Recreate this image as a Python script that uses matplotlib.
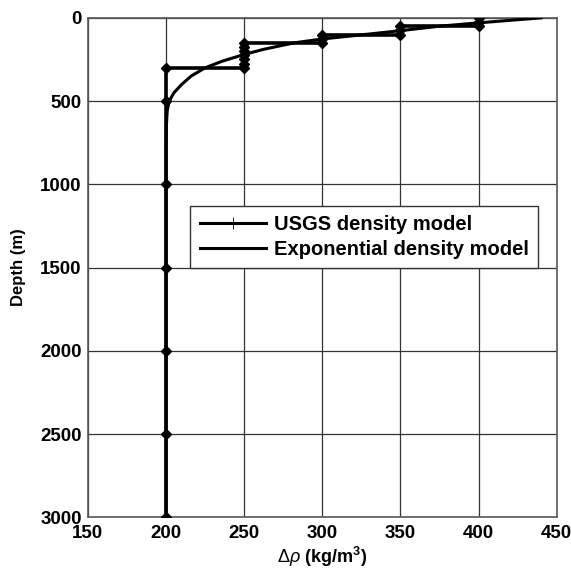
import numpy as np
import matplotlib
matplotlib.use('Agg')
import matplotlib.pyplot as plt
from matplotlib.lines import Line2D

plt.rcParams['font.family'] = ['Liberation Sans', 'DejaVu Sans']
plt.rcParams['mathtext.fontset'] = 'custom'
plt.rcParams['mathtext.rm'] = 'Liberation Sans'
plt.rcParams['mathtext.it'] = 'Liberation Sans:italic'
plt.rcParams['mathtext.bf'] = 'Liberation Sans:bold'

# USGS step model (depth in m, density contrast in kg/m^3)
usgs_depth = [0, 25, 50, 50, 75, 100, 100, 125, 150, 150, 175, 200, 225, 250, 275, 300,
              300, 500, 1000, 1500, 2000, 2500, 3000]
usgs_rho = [400, 400, 400, 350, 350, 350, 300, 300, 300, 250, 250, 250, 250, 250, 250, 250,
            200, 200, 200, 200, 200, 200, 200]

# exponential model
exp_depth = [0, 15, 30, 50, 77, 100, 127, 150, 190, 220, 260, 300, 350, 400, 450, 500, 560, 650, 800, 3000]
exp_rho = [440, 420, 400, 375, 350, 327, 300, 282, 262, 250, 236, 225, 216, 210, 205, 202, 200.7, 200.2, 200, 200]

xticks = [150, 200, 250, 300, 350, 400, 450]
yticks = [0, 500, 1000, 1500, 2000, 2500, 3000]

fig = plt.figure(figsize=(5.71, 5.76), dpi=100)
ax = fig.add_axes([0.154, 0.102, 0.821, 0.867])

ax.plot(exp_rho, exp_depth, color='black', lw=2.2, zorder=3)
ax.plot(usgs_rho, usgs_depth, color='black', lw=2.6, marker='D', markersize=5.5, zorder=4)

ax.set_xlim(150, 450)
ax.set_ylim(3000, 0)
ax.set_xticks(xticks)
ax.set_yticks(yticks)
ax.grid(True, color='0.2', lw=0.9)
ax.set_axisbelow(True)
ax.tick_params(length=0, labelsize=13.5)
ax.tick_params(axis='x', pad=5.5)
ax.tick_params(axis='y', pad=4.5)
for lab in ax.get_xticklabels() + ax.get_yticklabels():
    lab.set_fontweight('bold')
for sp in ax.spines.values():
    sp.set_color('0.35')
    sp.set_linewidth(1.2)

ax.set_ylabel('Depth (m)', fontsize=12, fontweight='bold', labelpad=10)
ax.set_xlabel(r'$\Delta\rho$ (kg/m$^\mathbf{3}$)', fontsize=13, fontweight='bold', labelpad=2)

handles = [Line2D([], [], color='black', lw=2.2, marker='+', markersize=9, markeredgewidth=0.6),
           Line2D([], [], color='black', lw=2.2)]
leg = ax.legend(handles, ['USGS density model', 'Exponential density model'],
                loc='lower right', bbox_to_anchor=(0.96, 0.499), borderaxespad=0,
                fancybox=False, framealpha=1, edgecolor='0.2', handlelength=3.3,
                handletextpad=0.4, prop={'weight': 'bold', 'size': 14.5},
                borderpad=0.45, labelspacing=0.3)
leg.get_frame().set_linewidth(1.0)

fig.savefig('out.png', dpi=100)
